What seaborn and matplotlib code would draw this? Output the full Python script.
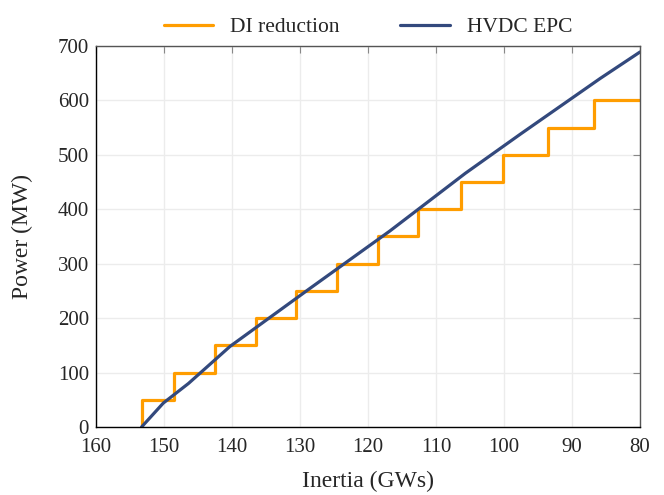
# Power vs inertia: DI reduction steps and HVDC EPC curve

import pandas as pd
import matplotlib.pyplot as plt
import seaborn as sns

# Step edges for DI reduction (inertia in GWs) and the power level after each edge
di_inertia = [153.2, 153.2, 148.6, 142.5, 136.5, 130.6, 124.6, 118.5, 112.6, 106.3, 100.1, 93.5, 86.8, 80.0]
di_power = [0, 50, 100, 150, 200, 250, 300, 350, 400, 450, 500, 550, 600, 600]

# HVDC EPC curve
epc_inertia = [153.3, 150.1, 146.4, 140.3, 128.5, 116.8, 105.7, 97.6, 85.9, 80.0]
epc_power = [0, 44, 80, 148, 255, 360, 466, 538, 640, 689]

di_df = pd.DataFrame({'inertia': di_inertia, 'power': di_power})
epc_df = pd.DataFrame({'inertia': epc_inertia, 'power': epc_power})

sns.set_style('whitegrid')
plt.rcParams['font.family'] = ['Liberation Serif', 'DejaVu Serif']

fig, ax = plt.subplots(figsize=(6.64, 4.95), dpi=100)
fig.subplots_adjust(left=0.1446, right=0.9639, bottom=0.1374, top=0.9071)

sns.lineplot(x='inertia', y='power', data=di_df, sort=False, estimator=None,
             drawstyle='steps-post', color='#ff9d00', linewidth=2.3,
             label='DI reduction', ax=ax)
sns.lineplot(x='inertia', y='power', data=epc_df, sort=False, estimator=None,
             color='#33497d', linewidth=2.3, label='HVDC EPC', ax=ax)

ax.set_xlim(160, 80)
ax.set_ylim(0, 700)
ax.set_xticks(range(160, 79, -10))
ax.set_yticks(range(0, 701, 100))

ax.grid(True, color='#ececec', linewidth=1.0)
for side in ax.spines.values():
    side.set_color('#555555')
    side.set_linewidth(1.0)
ax.spines['left'].set_color('black')
ax.spines['bottom'].set_color('black')

ax.tick_params(direction='in', length=5, color='#888888', labelsize=15,
               top=True, right=True)
ax.tick_params(axis='x', pad=8)
ax.tick_params(axis='y', pad=5)

ax.set_xlabel('Inertia (GWs)', fontsize=17)
ax.set_ylabel('Power (MW)', fontsize=17)
ax.xaxis.set_label_coords(0.5, -0.116)
ax.yaxis.set_label_coords(-0.116, 0.5)

ax.legend(loc='lower center', bbox_to_anchor=(0.5, 1.0), ncol=2, frameon=False,
          fontsize=15.5, handlelength=2.3, columnspacing=2.8, borderaxespad=0.0,
          handletextpad=0.8)

plt.savefig('out.png')
